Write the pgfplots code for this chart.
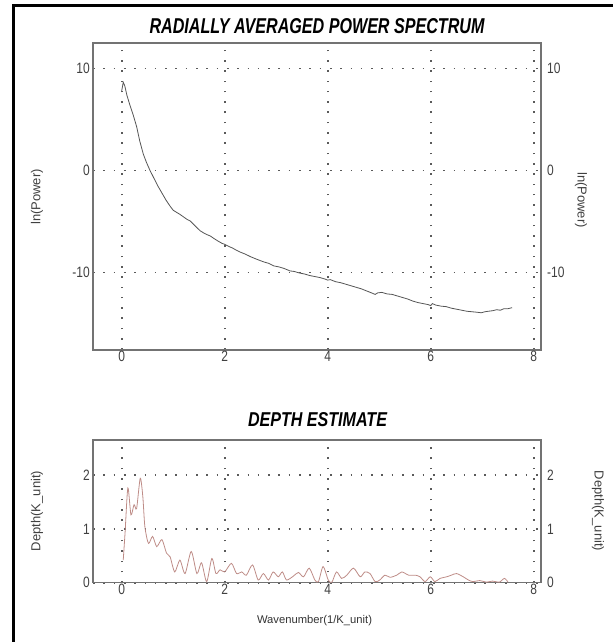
\documentclass[border=0pt]{standalone}
\usepackage{pgfplots}
\pgfplotsset{compat=1.18}
\usepackage{fontspec}
\setmainfont{Liberation Sans}
\usepackage{graphicx}
\definecolor{frameg}{RGB}{115,115,115}
\definecolor{dotg}{RGB}{90,90,90}
\definecolor{specc}{RGB}{85,85,85}
\definecolor{depthc}{RGB}{190,140,135}
\pgfplotsset{
  common/.style={
    scale only axis, anchor=south west,
    width=448pt, xmin=-0.557, xmax=8.14,
    xtick={0,2,4,6,8},
    major tick length=0pt,
    axis line style={frameg, line width=1.3pt},
    grid=major,
    grid style={dotg, line width=1.7pt, dash pattern=on 1.6pt off 8.7pt},
    tick label style={font=\fontsize{15}{15}\selectfont, text=black!75},
    xticklabel={\scalebox{0.8}[1]{\pgfmathprintnumber[assume math mode=true]{\tick}}},
    yticklabel={\scalebox{0.8}[1]{\pgfmathprintnumber[assume math mode=true]{\tick}}},
    xticklabel style={inner sep=0pt, yshift=-1pt},
    yticklabel style={inner sep=0pt, xshift=-3pt},
  },
  rightlab/.style={
    scale only axis, anchor=south west,
    width=448pt, xmin=-0.557, xmax=8.14,
    axis line style={draw=none},
    xtick=\empty, major tick length=0pt,
    yticklabel pos=right,
    tick label style={font=\fontsize{15}{15}\selectfont, text=black!75},
    yticklabel={\scalebox{0.8}[1]{\pgfmathprintnumber[assume math mode=true]{\tick}}},
    yticklabel style={inner sep=0pt, xshift=6pt},
  },
}
\begin{document}
\begin{tikzpicture}[x=1pt,y=1pt]
\path[use as bounding box] (0,0) rectangle (613,642);
\draw[line width=3pt] (13.5,0) -- (13.5,636) -- (613,636);

% ---------------- top: power spectrum ----------------
\begin{axis}[common, at={(93pt,292pt)}, height=307pt,
  ymin=-17.6, ymax=12.5, ytick={-10,0,10}]
\addplot[specc, line width=0.8pt] coordinates {
(0.00,7.80) (0.03,8.65) (0.06,8.30) (0.10,7.40) (0.16,6.40) (0.22,5.50)
(0.29,4.30) (0.35,2.90) (0.42,1.60) (0.48,0.80) (0.55,0.00) (0.62,-0.70)
(0.70,-1.50) (0.78,-2.20) (0.86,-2.90) (0.94,-3.50) (1.00,-3.90) (1.08,-4.15)
(1.13,-4.30) (1.20,-4.55) (1.27,-4.80) (1.33,-4.95) (1.40,-5.30) (1.46,-5.60)
(1.52,-5.90) (1.60,-6.15) (1.66,-6.30) (1.72,-6.42) (1.80,-6.70) (1.88,-6.95)
(1.95,-7.15) (2.00,-7.24) (2.08,-7.45) (2.15,-7.60) (2.22,-7.80) (2.30,-8.00)
(2.40,-8.20) (2.50,-8.45) (2.62,-8.70) (2.75,-8.95) (2.85,-9.10) (2.95,-9.35)
(3.05,-9.45) (3.15,-9.60) (3.27,-9.85) (3.35,-9.90) (3.45,-10.05) (3.55,-10.15)
(3.65,-10.30) (3.75,-10.40) (3.85,-10.50) (3.95,-10.65) (4.00,-10.75) (4.05,-10.70)
(4.15,-10.90) (4.25,-11.00) (4.35,-11.15) (4.45,-11.30) (4.55,-11.45) (4.65,-11.60)
(4.75,-11.80) (4.85,-12.00) (4.92,-12.15) (4.97,-12.00) (5.05,-11.95) (5.15,-12.10)
(5.25,-12.15) (5.35,-12.30) (5.45,-12.45) (5.55,-12.60) (5.65,-12.80) (5.75,-12.95)
(5.85,-13.05) (5.95,-13.15) (6.00,-13.25) (6.03,-13.05) (6.10,-13.20) (6.20,-13.30)
(6.30,-13.35) (6.40,-13.50) (6.50,-13.60) (6.60,-13.70) (6.70,-13.80) (6.80,-13.85)
(6.90,-13.90) (6.98,-13.95) (7.05,-13.85) (7.12,-13.80) (7.20,-13.75) (7.28,-13.65)
(7.35,-13.70) (7.42,-13.55) (7.50,-13.55) (7.58,-13.45)
};
\end{axis}
\begin{axis}[rightlab, at={(93pt,292pt)}, height=307pt,
  ymin=-17.6, ymax=12.5, ytick={-10,0,10}]
\end{axis}

% ---------------- bottom: depth estimate ----------------
\begin{axis}[common, at={(93pt,59.3pt)}, height=142.7pt,
  ymin=0, ymax=2.65, ytick={0,1,2}, clip=true]
\addplot[depthc, line width=0.8pt, smooth, tension=0.45] coordinates {
(0.03,0.42) (0.065,0.92) (0.12,1.76) (0.18,1.26) (0.24,1.45) (0.29,1.38)
(0.36,1.94) (0.41,1.60) (0.45,1.04) (0.52,0.73) (0.60,0.86) (0.68,0.67)
(0.78,0.80) (0.87,0.55) (0.94,0.48) (1.03,0.20) (1.13,0.42) (1.23,0.17)
(1.35,0.58) (1.46,0.17) (1.55,0.37) (1.65,0.02) (1.75,0.45) (1.83,0.17)
(1.91,0.24) (2.00,0.20) (2.13,0.36) (2.23,0.17) (2.33,0.20) (2.42,0.14)
(2.54,0.33) (2.65,0.05) (2.75,0.17) (2.85,0.05) (2.94,0.20) (3.04,0.11)
(3.12,0.20) (3.20,0.05) (3.33,0.12) (3.43,0.19) (3.53,0.11) (3.64,0.27)
(3.75,0.05) (3.82,0.02) (3.91,0.30) (4.01,0.05) (4.08,0.01) (4.17,0.20)
(4.27,0.08) (4.37,0.14) (4.50,0.27) (4.63,0.11) (4.72,0.20) (4.82,0.17)
(4.92,0.02) (5.01,0.05) (5.11,0.14) (5.21,0.10) (5.34,0.14) (5.44,0.20)
(5.57,0.14) (5.70,0.14) (5.79,0.11) (5.89,0.02) (5.99,0.11) (6.08,0.02)
(6.18,0.08) (6.31,0.11) (6.40,0.14) (6.50,0.17) (6.63,0.11) (6.73,0.05)
(6.82,0.02) (6.95,0.04) (7.08,0.01) (7.20,0.03) (7.33,0.01) (7.43,0.08)
(7.50,0.01)
};
\end{axis}
\begin{axis}[rightlab, at={(93pt,59.3pt)}, height=142.7pt,
  ymin=0, ymax=2.65, ytick={0,1,2}]
\end{axis}

% ---------------- titles and labels ----------------
\node[inner sep=0pt] at (317,616) {\resizebox{335pt}{15pt}{\bfseries\itshape RADIALLY AVERAGED POWER SPECTRUM}};
\node[inner sep=0pt] at (317.5,222) {\resizebox{139pt}{14pt}{\bfseries\itshape DEPTH ESTIMATE}};
\node[inner sep=0pt, text=black!80] at (314.5,21) {\resizebox{115pt}{!}{\fontsize{12}{12}\selectfont Wavenumber(1/K\_unit)}};
\node[inner sep=0pt, rotate=90, text=black!75, font=\fontsize{13}{13}\selectfont] at (37,445) {ln(Power)};
\node[inner sep=0pt, rotate=-90, text=black!75, font=\fontsize{13}{13}\selectfont] at (581,442) {ln(Power)};
\node[inner sep=0pt, rotate=90, text=black!75, font=\fontsize{13}{13}\selectfont] at (37,131) {Depth(K\_unit)};
\node[inner sep=0pt, rotate=-90, text=black!75, font=\fontsize{13}{13}\selectfont] at (598,131) {Depth(K\_unit)};
\end{tikzpicture}
\end{document}
